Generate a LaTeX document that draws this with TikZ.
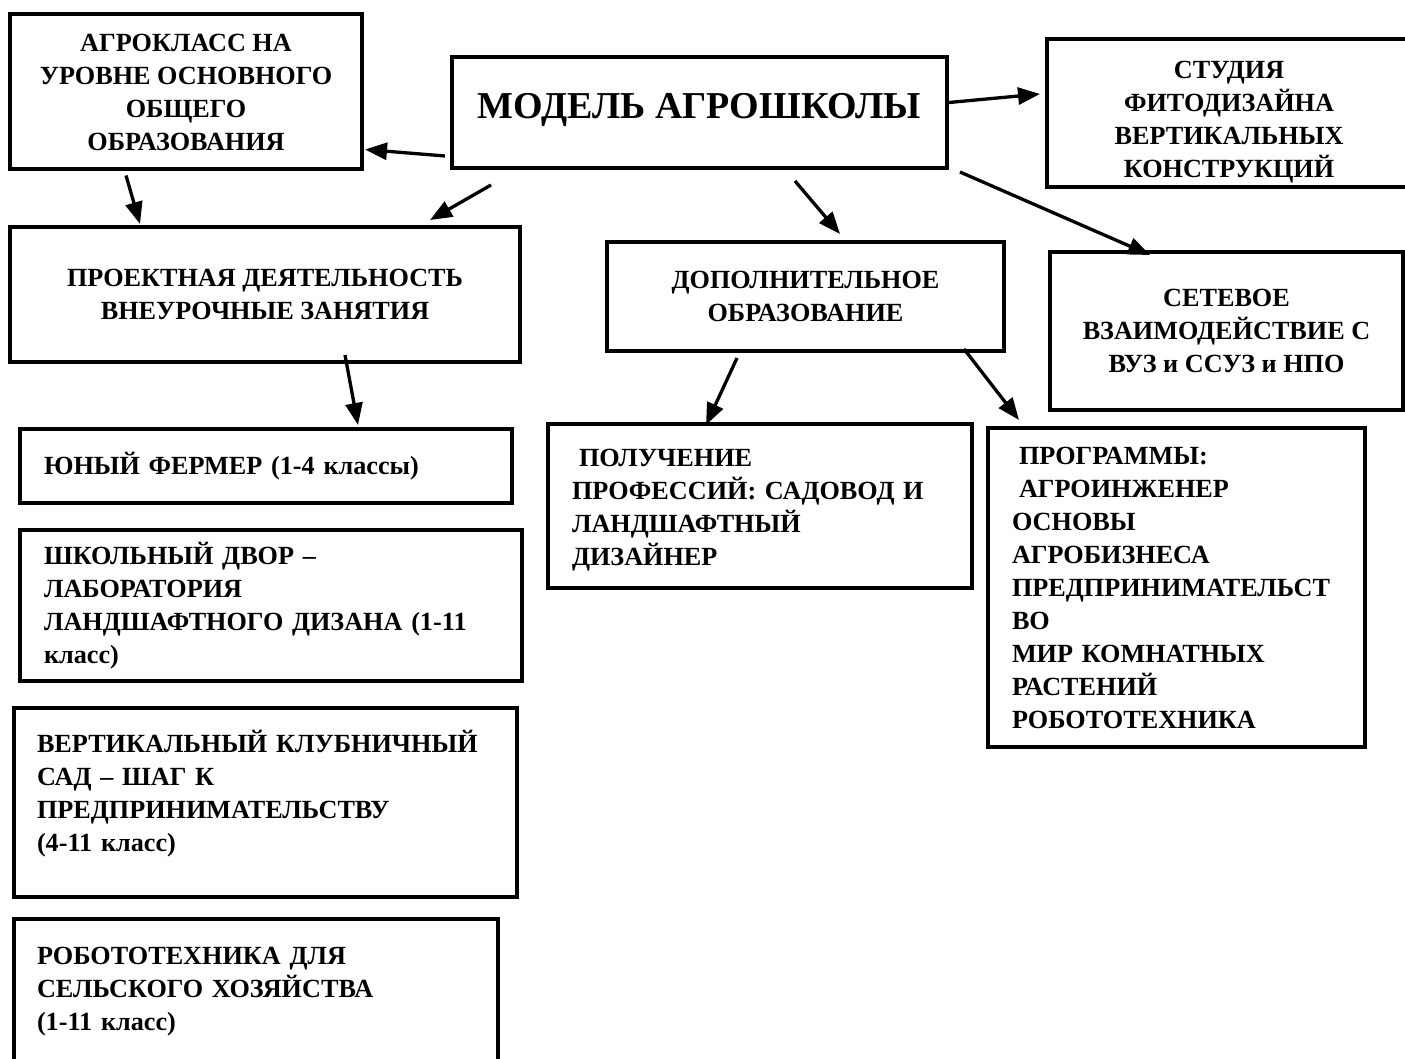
\documentclass[tikz,border=0pt]{standalone}
\usepackage{fontspec}
\setmainfont{Liberation Serif}
\usetikzlibrary{arrows.meta,calc}
\begin{document}
\begin{tikzpicture}[x=1pt,y=-1pt,
	box/.style={draw,line width=4pt,inner sep=0pt,font=\fontsize{26.2}{33}\selectfont\bfseries},
	mid/.style={box,align=center},
	lft/.style={box,align=left},
	arr/.style={line width=3.3pt,-{Triangle[length=22pt,width=17pt]}}]
		\useasboundingbox (0,0) rectangle (1405,1059);
		\node [mid,minimum width=352pt,minimum height=155pt] (agro) at (186,92) {АГРОКЛАСС НА\\УРОВНЕ ОСНОВНОГО\\ОБЩЕГО\\ОБРАЗОВАНИЯ};
		\node [box,minimum width=495pt,minimum height=111pt,font=\fontsize{38}{44}\selectfont\bfseries] (model) at (699.5,112.5) {\raisebox{-6pt}[0pt][0pt]{МОДЕЛЬ АГРОШКОЛЫ}};
		\node [mid,minimum width=400pt,minimum height=148pt] (studio) at (1247,113) {\begin{tabular}{@{}c@{\hspace{36pt}}}\rule{0pt}{39pt}СТУДИЯ\\ФИТОДИЗАЙНА\\ВЕРТИКАЛЬНЫХ\\КОНСТРУКЦИЙ\end{tabular}};
		\node [mid,minimum width=510pt,minimum height=135pt] (proj) at (265,294.5) {ПРОЕКТНАЯ ДЕЯТЕЛЬНОСТЬ\\ВНЕУРОЧНЫЕ ЗАНЯТИЯ};
		\node [mid,minimum width=397pt,minimum height=109pt] (dop) at (805.5,296.5) {ДОПОЛНИТЕЛЬНОЕ\\ОБРАЗОВАНИЕ};
		\node [mid,minimum width=353pt,minimum height=158pt] (net) at (1226.5,331) {СЕТЕВОЕ\\ВЗАИМОДЕЙСТВИЕ С\\ВУЗ и ССУЗ и НПО};
		\node [lft,minimum width=492pt,minimum height=74pt,text width=444pt] (young) at (266,466) {ЮНЫЙ ФЕРМЕР (1-4 классы)};
		\node [lft,minimum width=502pt,minimum height=151pt,text width=454pt] (yard) at (271,605.5) {ШКОЛЬНЫЙ ДВОР –\\ЛАБОРАТОРИЯ\\ЛАНДШАФТНОГО ДИЗАНА (1-11\\класс)};
		\node [lft,minimum width=503pt,minimum height=189pt,text width=457pt] (vert) at (265.5,802.5) {ВЕРТИКАЛЬНЫЙ КЛУБНИЧНЫЙ\\САД – ШАГ К\\ПРЕДПРИНИМАТЕЛЬСТВУ\\(4-11 класс)\\[-10pt]\mbox{}};
		\node [lft,minimum width=484pt,minimum height=146pt,text width=438pt] (robo) at (256,992) {РОБОТОТЕХНИКА ДЛЯ\\СЕЛЬСКОГО ХОЗЯЙСТВА\\(1-11 класс)};
		\node [lft,minimum width=424pt,minimum height=164pt,text width=376pt] (gain) at (760,506) {\rule{0pt}{25pt}\hspace*{7pt}ПОЛУЧЕНИЕ\\ПРОФЕССИЙ: САДОВОД И\\ЛАНДШАФТНЫЙ\\ДИЗАЙНЕР};
		\node [lft,minimum width=377pt,minimum height=319pt,text width=329pt] (prog) at (1176.5,587.5) {\hspace*{7pt}ПРОГРАММЫ:\\\hspace*{7pt}АГРОИНЖЕНЕР\\ОСНОВЫ\\АГРОБИЗНЕСА\\ПРЕДПРИНИМАТЕЛЬСТ\\ВО\\МИР КОМНАТНЫХ\\РАСТЕНИЙ\\РОБОТОТЕХНИКА};
		\draw [arr] ($(model.south west)+(-5,-14)$) -- ($(agro.south east)+(1,-22)$);
		\draw [arr] ($(model.east)+(0,-10)$) -- ($(studio.west)+(-5,-19)$);
		\draw [arr] ($(agro.south west)+(118,4)$) -- ($(proj.north west)+(132,-1)$);
		\draw [arr] ($(model.south west)+(41,15)$) -- ($(proj.north east)+(-92,-5)$);
		\draw [arr] ($(model.south)+(95.5,11)$) -- ($(dop.north)+(34.5,-6)$);
		\draw [arr] ($(model.south east)+(11,2)$) -- ($(net.north west)+(102,5)$);
		\draw [arr] ($(proj.south west)+(337,-9)$) -- ($(young.north west)+(340,-2)$);
		\draw [arr] ($(dop.south)+(-68.5,5)$) -- ($(gain.north)+(-54,3)$);
		\draw [arr] ($(dop.south east)+(-42,-4)$) -- ($(prog.north west)+(33,-6)$);
\end{tikzpicture}
\end{document}
